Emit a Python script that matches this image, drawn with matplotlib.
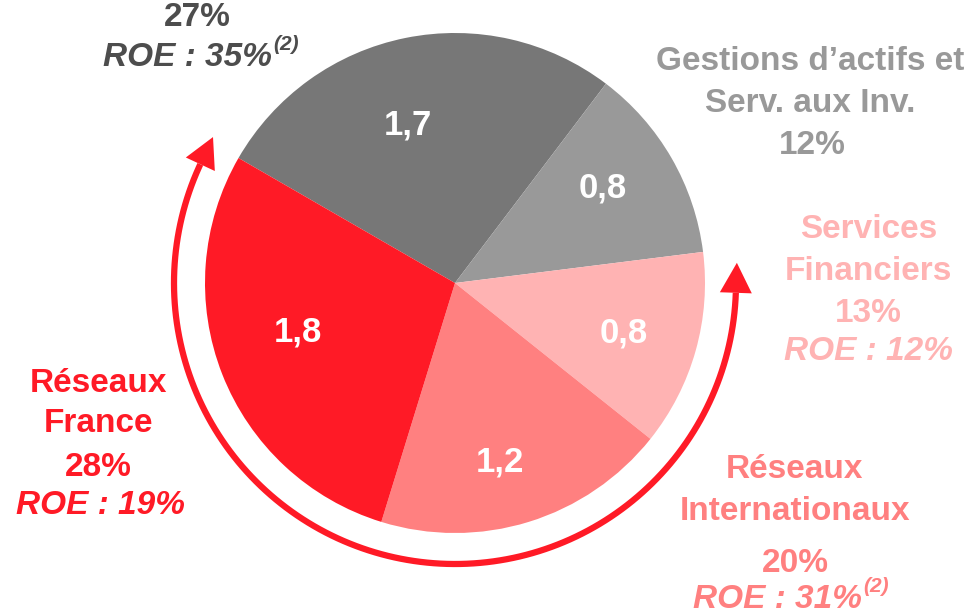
import matplotlib
matplotlib.use("Agg")
import matplotlib.pyplot as plt
import numpy as np
from matplotlib.patches import Polygon

plt.rcParams['font.family'] = ['Liberation Sans', 'DejaVu Sans']

# Data
segments = ["Banque de Financement et d'Investissement", "Gestions d'actifs et Serv. aux Inv.",
            "Services Financiers", "Réseaux Internationaux", "Réseaux France"]
values = [1.7, 0.8, 0.8, 1.2, 1.8]
value_labels = ["1,7", "0,8", "0,8", "1,2", "1,8"]
shares = ["27%", "12%", "13%", "20%", "28%"]
roe = ["ROE : 35%", None, "ROE : 12%", "ROE : 31%", "ROE : 19%"]
roe_note = ["(2)", None, None, "(2)", None]
colors = ["#777777", "#999999", "#FFB3B3", "#FF8080", "#FF1A26"]
text_colors = ["#4D4D4D", "#999999", "#FFB3B3", "#FF8080", "#FF1A26"]

W, H = 975, 614
fig = plt.figure(figsize=(W / 100, H / 100), dpi=100)
ax = fig.add_axes([0, 0, 1, 1])

def Y(py):
    return H - py

cx, cy, R = 455, Y(283), 250
ax.pie(values, colors=colors, startangle=150, counterclock=False,
       center=(cx, cy), radius=R, frame=True,
       wedgeprops=dict(linewidth=0))

# value labels inside slices
label_pos = [(408, 125), (603, 188), (624, 333), (500, 462), (298, 332)]
for (px, py), lab in zip(label_pos, value_labels):
    ax.text(px, Y(py), lab, color="white", fontsize=25, fontweight="bold",
            ha="center", va="center")

# circular arrow
red = "#FF1A26"
Ra = 281
a0, a1 = -2, -205
th = np.radians(np.linspace(a0, a1, 300))
ax.plot(cx + Ra * np.cos(th), cy + Ra * np.sin(th), color=red, lw=4.5, solid_capstyle="butt")

def head(theta_deg, direction):
    t = np.radians(theta_deg)
    p = np.array([cx + Ra * np.cos(t), cy + Ra * np.sin(t)])
    d = direction * np.array([-np.sin(t), np.cos(t)])
    n = np.array([-d[1], d[0]])
    L, Wd = 30, 16
    tip = p + d * L
    poly = [tip, p + n * Wd, p - n * Wd]
    ax.add_patch(Polygon(poly, closed=True, color=red, lw=0))

head(a0, 1)
head(a1, -1)

fs = 24
bold = dict(fontweight="bold", fontsize=fs, ha="center", va="center")
ital = dict(fontweight="bold", fontstyle="italic", fontsize=fs, va="center")
sup = dict(fontweight="bold", fontstyle="italic", fontsize=15, ha="left", va="center")

# Top (BFI)
ax.text(197, Y(18), shares[0], color=text_colors[0], **bold)
ax.text(272, Y(57), roe[0], color=text_colors[0], ha="right", **ital)
ax.text(273, Y(44), roe_note[0], color=text_colors[0], **sup)

# Gestions d'actifs
ax.text(810, Y(62), "Gestions d’actifs et", color=text_colors[1], **bold)
ax.text(810, Y(103), "Serv. aux Inv.", color=text_colors[1], **bold)
ax.text(812, Y(146), shares[1], color=text_colors[1], **bold)

# Services Financiers
ax.text(869, Y(230), "Services", color=text_colors[2], **bold)
ax.text(868, Y(271), "Financiers", color=text_colors[2], **bold)
ax.text(868, Y(313), shares[2], color=text_colors[2], **bold)
ax.text(868, Y(352), roe[2], color=text_colors[2], ha="center", **ital)

# Réseaux Internationaux
ax.text(795, Y(470), "Réseaux", color=text_colors[3], **bold)
ax.text(795, Y(511), "Internationaux", color=text_colors[3], **bold)
ax.text(795, Y(564), shares[3], color=text_colors[3], **bold)
ax.text(862, Y(599), roe[3], color=text_colors[3], ha="right", **ital)
ax.text(863, Y(586), roe_note[3], color=text_colors[3], **sup)

# Réseaux France
ax.text(98, Y(383), "Réseaux", color=text_colors[4], **bold)
ax.text(98, Y(423), "France", color=text_colors[4], **bold)
ax.text(98, Y(467), shares[4], color=text_colors[4], **bold)
ax.text(100, Y(505), roe[4], color=text_colors[4], ha="center", **ital)

ax.set_xlim(0, W)
ax.set_ylim(0, H)
ax.set_aspect("equal")
ax.axis("off")

fig.savefig("out.png", dpi=100)
